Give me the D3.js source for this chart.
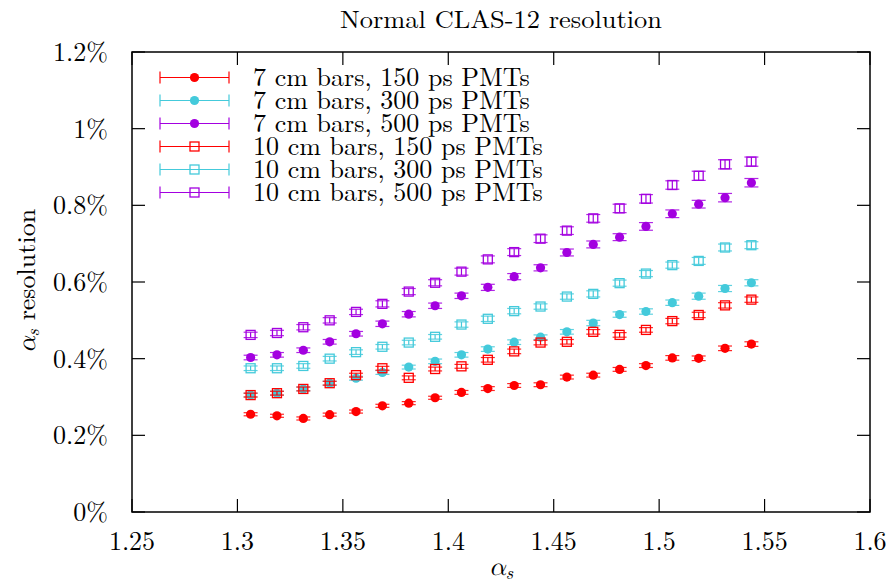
<!DOCTYPE html>
<html>
<head>
<meta charset="utf-8">
<script src="https://cdn.jsdelivr.net/npm/d3@7"></script>
<style>
  html, body { margin: 0; padding: 0; background: #fff; }
  svg text { font-family: "Latin Modern Roman", "Liberation Serif", serif; fill: #000; }
  svg text tspan.greek { font-family: "Latin Modern Math", "Latin Modern Roman", "DejaVu Serif", serif; }
</style>
</head>
<body>
<svg id="chart" width="890" height="584"></svg>
<script>
// ---- data ----
const alphaS = [1.30625, 1.31875, 1.33125, 1.34375, 1.35625, 1.36875, 1.38125, 1.39375, 1.40625, 1.41875,
                1.43125, 1.44375, 1.45625, 1.46875, 1.48125, 1.49375, 1.50625, 1.51875, 1.53125, 1.54375];

const res7cm150  = [0.255, 0.251, 0.244, 0.254, 0.262, 0.277, 0.284, 0.298, 0.312, 0.322,
                    0.330, 0.332, 0.352, 0.357, 0.372, 0.382, 0.402, 0.401, 0.427, 0.438];
const res7cm300  = [0.305, 0.310, 0.321, 0.336, 0.349, 0.364, 0.378, 0.393, 0.410, 0.425,
                    0.443, 0.456, 0.470, 0.493, 0.515, 0.523, 0.546, 0.563, 0.583, 0.598];
const res7cm500  = [0.403, 0.410, 0.422, 0.444, 0.465, 0.491, 0.516, 0.538, 0.564, 0.586,
                    0.614, 0.637, 0.677, 0.698, 0.717, 0.745, 0.778, 0.803, 0.820, 0.859];
const res10cm150 = [0.305, 0.310, 0.321, 0.336, 0.357, 0.375, 0.350, 0.373, 0.380, 0.397,
                    0.419, 0.442, 0.444, 0.470, 0.462, 0.475, 0.498, 0.514, 0.539, 0.554];
const res10cm300 = [0.375, 0.375, 0.381, 0.400, 0.417, 0.431, 0.442, 0.457, 0.489, 0.504,
                    0.524, 0.536, 0.562, 0.569, 0.597, 0.622, 0.644, 0.655, 0.690, 0.696];
const res10cm500 = [0.462, 0.467, 0.482, 0.500, 0.522, 0.543, 0.575, 0.598, 0.627, 0.659,
                    0.678, 0.713, 0.734, 0.766, 0.792, 0.817, 0.853, 0.877, 0.907, 0.914];

const err7cm150  = [0.004, 0.004, 0.004, 0.004, 0.004, 0.004, 0.004, 0.004, 0.005, 0.005,
                    0.005, 0.005, 0.005, 0.005, 0.005, 0.005, 0.006, 0.006, 0.006, 0.006];
const err7cm300  = [0.005, 0.005, 0.005, 0.005, 0.005, 0.005, 0.005, 0.006, 0.006, 0.006,
                    0.006, 0.006, 0.006, 0.007, 0.007, 0.007, 0.007, 0.008, 0.008, 0.008];
const err7cm500  = [0.006, 0.006, 0.006, 0.006, 0.006, 0.007, 0.007, 0.007, 0.007, 0.008,
                    0.008, 0.008, 0.009, 0.009, 0.009, 0.010, 0.010, 0.010, 0.011, 0.011];
const err10cm150 = [0.005, 0.005, 0.005, 0.005, 0.005, 0.005, 0.005, 0.005, 0.005, 0.006,
                    0.006, 0.006, 0.006, 0.006, 0.006, 0.006, 0.007, 0.007, 0.007, 0.007];
const err10cm300 = [0.006, 0.006, 0.006, 0.006, 0.006, 0.006, 0.006, 0.006, 0.007, 0.007,
                    0.007, 0.007, 0.007, 0.008, 0.008, 0.008, 0.008, 0.009, 0.009, 0.009];
const err10cm500 = [0.007, 0.007, 0.007, 0.007, 0.007, 0.008, 0.008, 0.008, 0.009, 0.009,
                    0.009, 0.010, 0.010, 0.010, 0.011, 0.011, 0.011, 0.012, 0.012, 0.012];

const seriesLabels = ["7 cm bars, 150 ps PMTs", "7 cm bars, 300 ps PMTs", "7 cm bars, 500 ps PMTs",
                      "10 cm bars, 150 ps PMTs", "10 cm bars, 300 ps PMTs", "10 cm bars, 500 ps PMTs"];
const seriesColors = ["#ff0000", "#44cadb", "#a300e0", "#ff0000", "#44cadb", "#a300e0"];
const seriesShapes = ["circle", "circle", "circle", "square", "square", "square"];
const seriesValues = [res7cm150, res7cm300, res7cm500, res10cm150, res10cm300, res10cm500];
const seriesErrors = [err7cm150, err7cm300, err7cm500, err10cm150, err10cm300, err10cm500];

const xTicks = [1.25, 1.3, 1.35, 1.4, 1.45, 1.5, 1.55, 1.6];
const xTickLabels = ["1.25", "1.3", "1.35", "1.4", "1.45", "1.5", "1.55", "1.6"];
const yTicks = [0, 0.2, 0.4, 0.6, 0.8, 1.0, 1.2];
const yTickLabels = ["0%", "0.2%", "0.4%", "0.6%", "0.8%", "1%", "1.2%"];

const titleText = "Normal CLAS-12 resolution";

// ---- layout ----
const svg = d3.select("#chart");
const L = 132, R = 870, T = 52, B = 512;
const x = d3.scaleLinear().domain([1.25, 1.6]).range([L, R]);
const y = d3.scaleLinear().domain([0, 1.2]).range([B, T]);
const tickLen = 13;
const FS = 26;

// ticks (inward, all four sides)
const tg = svg.append("g").attr("stroke", "#000").attr("stroke-width", 1.2);
xTicks.forEach(v => {
  tg.append("line").attr("x1", x(v)).attr("x2", x(v)).attr("y1", B).attr("y2", B - tickLen);
  tg.append("line").attr("x1", x(v)).attr("x2", x(v)).attr("y1", T).attr("y2", T + tickLen);
});
yTicks.forEach(v => {
  tg.append("line").attr("x1", L).attr("x2", L + tickLen).attr("y1", y(v)).attr("y2", y(v));
  tg.append("line").attr("x1", R).attr("x2", R - tickLen).attr("y1", y(v)).attr("y2", y(v));
});

// tick labels
xTicks.forEach((v, i) => {
  svg.append("text").attr("x", x(v)).attr("y", B + 38).attr("text-anchor", "middle")
    .attr("font-size", FS).text(xTickLabels[i]);
});
yTicks.forEach((v, i) => {
  svg.append("text").attr("x", L - 24).attr("y", y(v) + 9).attr("text-anchor", "end")
    .attr("font-size", FS).text(yTickLabels[i]);
});

// title and axis labels
svg.append("text").attr("x", 501).attr("y", 28).attr("text-anchor", "middle")
  .attr("font-size", 25).attr("textLength", 322).attr("lengthAdjust", "spacingAndGlyphs").text(titleText);

const xl = svg.append("text").attr("x", 501).attr("y", 575).attr("text-anchor", "middle")
  .attr("font-size", FS);
xl.append("tspan").attr("class", "greek").attr("font-style", "italic").text("α");
xl.append("tspan").attr("font-style", "italic").attr("font-size", 18).attr("dy", 4).text("s");

const yl = svg.append("text").attr("transform", "translate(35,281) rotate(-90)")
  .attr("text-anchor", "middle").attr("font-size", FS);
yl.append("tspan").attr("class", "greek").attr("font-style", "italic").text("α");
yl.append("tspan").attr("font-style", "italic").attr("font-size", 18).attr("dy", 4).text("s");
yl.append("tspan").attr("dy", -4).text(" resolution");

// data
const dg = svg.append("g");
function drawMarker(g, shape, cx, cy, color) {
  if (shape === "circle") {
    g.append("circle").attr("cx", cx).attr("cy", cy).attr("r", 4.6).attr("fill", color);
  } else {
    g.append("rect").attr("x", cx - 4.5).attr("y", cy - 4.5).attr("width", 9).attr("height", 9)
      .attr("fill", "none").attr("stroke", color).attr("stroke-width", 1.3);
  }
}
seriesValues.forEach((vals, s) => {
  const g = dg.append("g");
  const c = seriesColors[s];
  vals.forEach((v, i) => {
    const cx = x(alphaS[i]);
    const e = seriesErrors[s][i];
    const y1 = y(v - e), y2 = y(v + e);
    g.append("line").attr("x1", cx).attr("x2", cx).attr("y1", y1).attr("y2", y2)
      .attr("stroke", c).attr("stroke-width", 1.2);
    [y1, y2].forEach(yy => {
      g.append("line").attr("x1", cx - 7).attr("x2", cx + 7).attr("y1", yy).attr("y2", yy)
        .attr("stroke", c).attr("stroke-width", 1.2).attr("stroke-opacity", 0.85);
    });
    drawMarker(g, seriesShapes[s], cx, y(v), c);
  });
});

// legend
const lg = svg.append("g");
const legX1 = 160, legX2 = 229, legY0 = 77.5, legDY = 23;
seriesLabels.forEach((lab, s) => {
  const yy = legY0 + s * legDY;
  const c = seriesColors[s];
  lg.append("line").attr("x1", legX1).attr("x2", legX2).attr("y1", yy).attr("y2", yy)
    .attr("stroke", c).attr("stroke-width", 1.2);
  [legX1, legX2].forEach(xx => {
    lg.append("line").attr("x1", xx).attr("x2", xx).attr("y1", yy - 6).attr("y2", yy + 6)
      .attr("stroke", c).attr("stroke-width", 1.2);
  });
  drawMarker(lg, seriesShapes[s], (legX1 + legX2) / 2, yy, c);
  lg.append("text").attr("x", 253).attr("y", yy + 8).attr("font-size", FS).text(lab);
});

// frame
svg.append("rect").attr("x", L).attr("y", T).attr("width", R - L).attr("height", B - T)
  .attr("fill", "none").attr("stroke", "#000").attr("stroke-width", 1.5);
</script>
</body>
</html>
